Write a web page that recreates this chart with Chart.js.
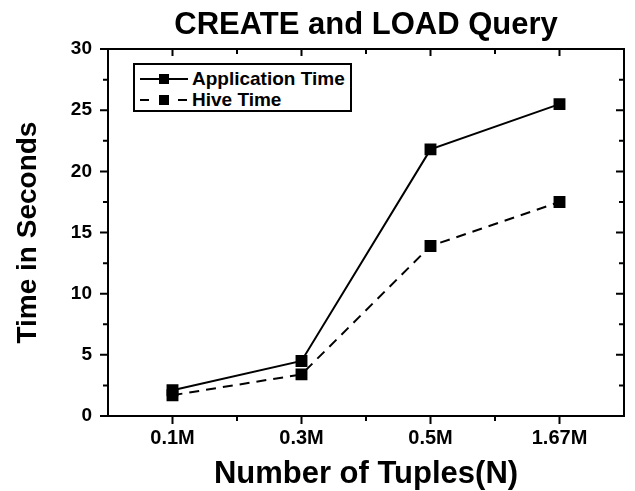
<!DOCTYPE html>
<html>
<head>
<meta charset="utf-8">
<script src="https://cdn.jsdelivr.net/npm/chart.js@4"></script>
<style>
  body { margin: 0; background: #fff; }
  #wrap { position: relative; width: 635px; height: 491px; }
  #legend {
    position: absolute; left: 133px; top: 63px; width: 215px; height: 45px;
    border: 2px solid #000; background: #fff;
    font: bold 19px "Liberation Sans", Arial, sans-serif; color: #000;
  }
  #legend div { position: absolute; left: 5px; height: 20px; display: flex; align-items: center; }
  #legend svg { margin-right: 4px; }
</style>
</head>
<body>
<div id="wrap">
  <canvas id="myChart" width="635" height="491"></canvas>
  <div id="legend"></div>
</div>
<script>
let categories = ['0.1M', '0.3M', '0.5M', '1.67M'];
let appTime = [2.1, 4.5, 21.8, 25.5];
let hiveTime = [1.7, 3.4, 13.9, 17.5];
let yTicks = [0, 5, 10, 15, 20, 25, 30];

let font = '"Liberation Sans", Arial, sans-serif';

// legend box drawn inside the plot, like the original
let legend = document.getElementById('legend');
legend.innerHTML =
  '<div style="top:4px"><svg width="48" height="12"><line x1="0" y1="6" x2="48" y2="6" stroke="#000" stroke-width="2"/><rect x="19" y="1" width="10" height="10" fill="#000"/></svg>Application Time</div>' +
  '<div style="top:25px"><svg width="48" height="12"><line x1="0" y1="6" x2="48" y2="6" stroke="#000" stroke-width="2" stroke-dasharray="9,10"/><rect x="19" y="1" width="10" height="10" fill="#000"/></svg>Hive Time</div>';

// frame + ticks (left/bottom outward, top/right inward)
const frameTicks = {
    id: 'frameTicks',
    afterDraw(chart) {
        const {ctx, chartArea: a, scales: {x, y}} = chart;
        ctx.save();
        ctx.strokeStyle = '#000';
        ctx.lineWidth = 2;
        ctx.beginPath();
        ctx.moveTo(a.left, a.top); ctx.lineTo(a.right, a.top); ctx.lineTo(a.right, a.bottom);
        ctx.stroke();
        ctx.beginPath();
        for (let v = 0; v <= 30; v += 2.5) {
            let py = y.getPixelForValue(v);
            let len = v % 5 === 0 ? 8 : 5;
            ctx.moveTo(a.left - len, py); ctx.lineTo(a.left, py);
            ctx.moveTo(a.right - len, py); ctx.lineTo(a.right, py);
        }
        for (let i = 0; i < categories.length; i++) {
            let px = x.getPixelForValue(i);
            ctx.moveTo(px, a.bottom); ctx.lineTo(px, a.bottom + 8);
            ctx.moveTo(px, a.top); ctx.lineTo(px, a.top + 7);
            if (i < categories.length - 1) {
                let mx = (px + x.getPixelForValue(i + 1)) / 2;
                ctx.moveTo(mx, a.bottom); ctx.lineTo(mx, a.bottom + 5);
                ctx.moveTo(mx, a.top); ctx.lineTo(mx, a.top + 5);
            }
        }
        ctx.stroke();
        ctx.restore();
    }
};

let ctx = document.getElementById('myChart');
let myChart = new Chart(ctx, {
    type: 'line',
    data: {
        labels: categories,
        datasets: [{
            label: 'Application Time',
            data: appTime,
            borderColor: '#000',
            backgroundColor: '#000',
            borderWidth: 2,
            pointStyle: 'rect',
            pointRadius: 7,
            tension: 0
        }, {
            label: 'Hive Time',
            data: hiveTime,
            borderColor: '#000',
            backgroundColor: '#000',
            borderWidth: 2,
            borderDash: [10, 7],
            pointStyle: 'rect',
            pointRadius: 7,
            tension: 0
        }]
    },
    options: {
        responsive: false,
        animation: false,
        layout: { padding: { left: 0, right: 11, top: 0, bottom: 1 } },
        plugins: {
            legend: { display: false },
            tooltip: { enabled: false },
            title: {
                display: true,
                text: 'CREATE and LOAD Query',
                fullSize: false,
                color: '#000',
                font: { family: font, size: 31, weight: 'bold', lineHeight: 1.1 },
                padding: { top: 8, bottom: 7 }
            }
        },
        scales: {
            x: {
                offset: true,
                grid: { display: false, drawTicks: false },
                border: { display: true, color: '#000', width: 2 },
                ticks: { color: '#000', padding: 10, font: { family: font, size: 20, weight: 'bold' } },
                title: {
                    display: true,
                    text: 'Number of Tuples(N)',
                    color: '#000',
                    font: { family: font, size: 31, weight: 'bold', lineHeight: 1 },
                    padding: { top: 0, bottom: 0 }
                },
                afterFit(scale) { scale.height = 74; }
            },
            y: {
                min: 0,
                max: 30,
                grid: { display: false, drawTicks: false },
                border: { display: true, color: '#000', width: 2 },
                afterBuildTicks(scale) { scale.ticks = yTicks.map(v => ({ value: v })); },
                ticks: { color: '#000', padding: 16, font: { family: font, size: 19, weight: 'bold' } },
                title: {
                    display: true,
                    text: 'Time in Seconds',
                    color: '#000',
                    font: { family: font, size: 28, weight: 'bold', lineHeight: 1 },
                    padding: { top: 14, bottom: 0 }
                },
                afterFit(scale) { scale.width = 108; }
            }
        }
    },
    plugins: [frameTicks]
});
</script>
</body>
</html>
